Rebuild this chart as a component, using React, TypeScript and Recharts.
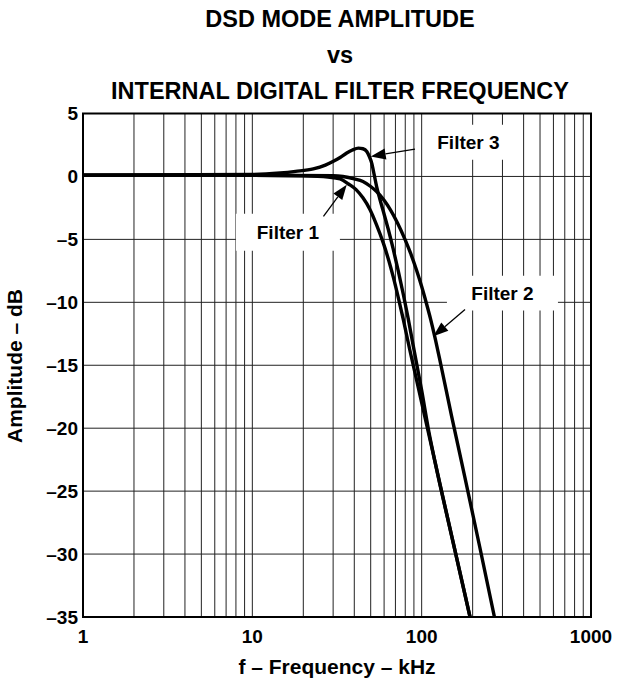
import React from 'react';
import {
  LineChart,
  Line,
  XAxis,
  YAxis,
  CartesianGrid,
  ReferenceArea,
  ReferenceLine,
} from 'recharts';

// frequency (kHz) / amplitude (dB)
const filter1Freq = [1, 10, 20, 28, 33, 37, 41, 45, 49.4, 54, 59.4, 64, 68, 73, 78, 85, 100, 120, 150, 193];
const filter1Db = [0.1, 0.1, 0.05, -0.05, -0.2, -0.6, -1.05, -1.7, -2.6, -3.8, -5.3, -6.7, -8.0, -9.7, -11.4, -13.75, -17.96, -22.7, -28.5, -35];

const filter2Freq = [1, 10, 30, 40, 45, 50, 54.2, 60, 65, 72, 79.7, 86, 93, 100, 106.5, 113, 119.4, 130, 150, 180, 220, 269];
const filter2Db = [0.1, 0.1, 0.05, -0.2, -0.4, -0.8, -1.2, -1.9, -2.6, -3.7, -5, -6.1, -7.4, -8.75, -10.05, -11.35, -12.7, -15.0, -19.0, -23.9, -29.4, -35];

const filter3Freq = [1, 10, 14.6, 18, 22.9, 27, 30.1, 33, 36.1, 39, 42.3, 45, 47.4, 49, 50.7, 52.5, 54.2, 56.5, 59.3, 63.5, 68, 73, 78, 83, 89.3, 100, 110, 120, 150, 193];
const filter3Db = [0.1, 0.15, 0.27, 0.4, 0.6, 0.9, 1.2, 1.5, 1.86, 2.1, 2.25, 2.2, 1.98, 1.6, 1.06, 0.1, -0.8, -1.75, -2.75, -4.2, -5.8, -7.6, -9.4, -11.2, -13.5, -17.0, -20.2, -22.7, -28.5, -35];

const xTicks = [1, 10, 100, 1000];
const yTicks = [-35, -30, -25, -20, -15, -10, -5, 0, 5];
const gridFreqs = [
  1, 2, 3, 4, 5, 6, 7, 8, 9,
  10, 20, 30, 40, 50, 60, 70, 80, 90,
  100, 200, 300, 400, 500, 600, 700, 800, 900, 1000,
];

const FONT = '"Liberation Sans", Arial, Helvetica, sans-serif';

const toPoints = (freq: number[], db: number[]) => freq.map((f, i) => ({ f, db: db[i] }));

const filter1 = toPoints(filter1Freq, filter1Db);
const filter2 = toPoints(filter2Freq, filter2Db);
const filter3 = toPoints(filter3Freq, filter3Db);

// annotation boxes and arrows, in data coordinates
const labels = [
  { name: 'Filter 1', x1: 8.0, x2: 32.9, y1: -5.9, y2: -2.96, from: { x: 26.3, y: -3.17 }, to: { x: 36.1, y: -0.66 } },
  { name: 'Filter 2', x1: 141, x2: 638, y1: -10.66, y2: -7.88, from: { x: 180.3, y: -10.58 }, to: { x: 117.2, y: -12.7 } },
  { name: 'Filter 3', x1: 104.6, x2: 341, y1: 1.33, y2: 4.1, from: { x: 91.3, y: 2.17 }, to: { x: 50.0, y: 1.59 } },
];

const Arrow = (props: any) => {
  const { x1, y1, x2, y2 } = props;
  const dx = x2 - x1;
  const dy = y2 - y1;
  const len = Math.sqrt(dx * dx + dy * dy) || 1;
  const ux = dx / len;
  const uy = dy / len;
  const head = 15;
  const half = 5.5;
  const bx = x2 - ux * head;
  const by = y2 - uy * head;
  const pts = `${x2},${y2} ${bx - uy * half},${by + ux * half} ${bx + uy * half},${by - ux * half}`;
  return (
    <g>
      <line x1={x1} y1={y1} x2={bx} y2={by} stroke="#000" strokeWidth={1.3} />
      <polygon points={pts} fill="#000" />
    </g>
  );
};

const fmtDb = (v: number) => (v < 0 ? `\u2013${Math.abs(v)}` : String(v));

const tickStyle = { fill: '#000', fontSize: 19, fontWeight: 'bold', fontFamily: FONT };

const App: React.FC = () => {
  return (
    <div style={{ position: 'relative', width: 619, height: 681, background: '#fff', fontFamily: FONT }}>
      <style>{'body{margin:0}'}</style>
      <div
        style={{
          position: 'absolute',
          left: 0,
          width: 680,
          top: 1,
          textAlign: 'center',
          fontWeight: 'bold',
          fontSize: 23.5,
          lineHeight: '36px',
          color: '#000',
        }}
      >
        <div>DSD MODE AMPLITUDE</div>
        <div>vs</div>
        <div>INTERNAL DIGITAL FILTER FREQUENCY</div>
      </div>

      <LineChart width={619} height={681} margin={{ top: 113.5, right: 28, bottom: 0, left: 0 }}>
        <CartesianGrid
          stroke="#222"
          strokeWidth={1}
          verticalValues={gridFreqs}
          horizontalValues={yTicks}
        />
        <XAxis
          dataKey="f"
          type="number"
          scale="log"
          domain={[1, 1000]}
          allowDataOverflow
          ticks={xTicks}
          interval={0}
          height={64}
          tickSize={0}
          tickMargin={13}
          tick={tickStyle}
          axisLine={{ stroke: '#000', strokeWidth: 2 }}
        />
        <YAxis
          type="number"
          domain={[-35, 5]}
          allowDataOverflow
          ticks={yTicks}
          interval={0}
          width={83}
          tickSize={0}
          tickMargin={5}
          tickFormatter={fmtDb}
          tick={tickStyle}
          axisLine={{ stroke: '#000', strokeWidth: 2 }}
        />
        <ReferenceArea x1={1} x2={1000} y1={-35} y2={5} fill="none" stroke="#000" strokeWidth={2} />
        {labels.map((l) => (
          <ReferenceArea
            key={l.name}
            x1={l.x1}
            x2={l.x2}
            y1={l.y1}
            y2={l.y2}
            fill="#fff"
            fillOpacity={1}
            stroke="none"
            label={{ value: l.name, position: 'center', fill: '#000', fontSize: 19, fontWeight: 'bold', fontFamily: FONT }}
          />
        ))}
        <Line data={filter1} dataKey="db" type="monotone" stroke="#000" strokeWidth={3.4} dot={false} activeDot={false} isAnimationActive={false} />
        <Line data={filter2} dataKey="db" type="monotone" stroke="#000" strokeWidth={3.4} dot={false} activeDot={false} isAnimationActive={false} />
        <Line data={filter3} dataKey="db" type="monotone" stroke="#000" strokeWidth={3.4} dot={false} activeDot={false} isAnimationActive={false} />
        {labels.map((l) => (
          <ReferenceLine key={l.name + '-arrow'} segment={[l.from, l.to]} shape={Arrow} />
        ))}
      </LineChart>

      <div
        style={{
          position: 'absolute',
          left: 83,
          width: 508,
          top: 655,
          textAlign: 'center',
          fontWeight: 'bold',
          fontSize: 21,
          color: '#000',
        }}
      >
        f – Frequency – kHz
      </div>
      <div
        style={{
          position: 'absolute',
          left: 15,
          top: 366,
          transform: 'translate(-50%, -50%) rotate(-90deg)',
          whiteSpace: 'nowrap',
          fontWeight: 'bold',
          fontSize: 21,
          color: '#000',
        }}
      >
        Amplitude – dB
      </div>
    </div>
  );
};

export default App;
